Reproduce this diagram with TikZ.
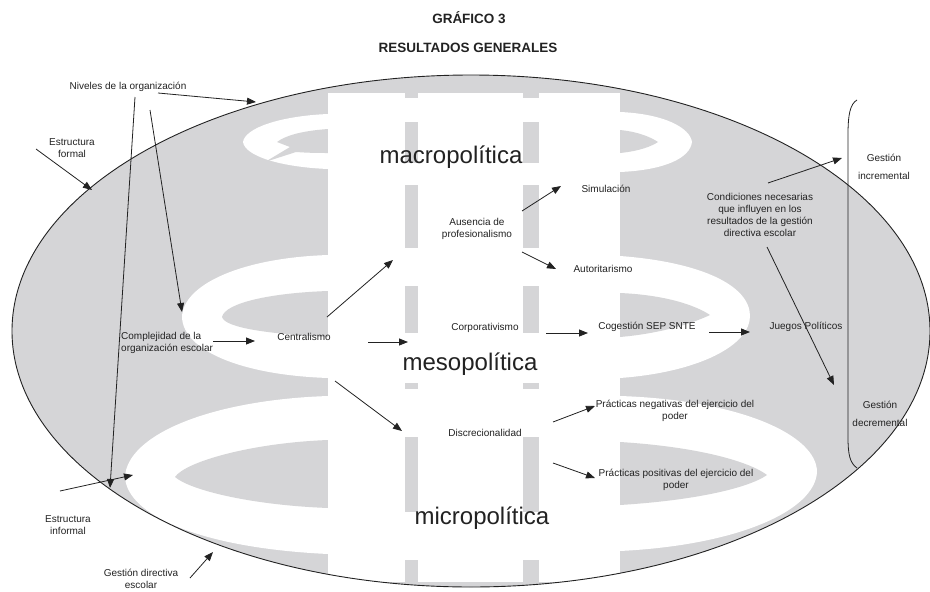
\documentclass[tikz,border=0pt]{standalone}
\usepackage{fontspec}
\setmainfont{Liberation Sans}
\usetikzlibrary{arrows.meta}
\definecolor{bg}{HTML}{D5D5D7}
\definecolor{ink}{HTML}{222222}
\begin{document}
\begin{tikzpicture}[x=1pt,y=-1pt,
  lbl/.style={font=\fontsize{10}{11.8}\selectfont, text=ink, align=center, inner sep=0pt},
  lblwide/.style={font=\fontsize{10}{17.5}\selectfont, text=ink, align=center, inner sep=0pt},
  big/.style={font=\fontsize{24}{28}\selectfont, text=ink, inner sep=0pt, anchor=base},
  ttl/.style={font=\bfseries\fontsize{13.5}{16}\selectfont, text=ink, inner sep=0pt},
  arr/.style={draw=ink, line width=0.8pt, -{Triangle[length=9pt,width=7pt]}},
  outline/.style={draw=ink, line width=0.9pt}]
\useasboundingbox (0,0) rectangle (930,592);
% ---------- background shapes ----------
\begin{scope}
\clip (471,331) ellipse [x radius=459pt, y radius=256pt];
\fill[bg] (0,0) rectangle (930,592);
% macro ring (outer white)
\fill[white] (340,114) -- (328,114) .. controls (280,116) and (245,128) .. (243,142) .. controls (245,156) and (280,167) .. (328,169) -- (340,169) -- cycle;
\fill[white] (608,112) -- (620,112) .. controls (665,114) and (690,128) .. (692,142) .. controls (690,158) and (665,170) .. (620,172) -- (608,172) -- cycle;
% meso ring (outer white)
\fill[white] (340,255) -- (328,255) .. controls (240,258) and (183,285) .. (182,317) .. controls (183,350) and (240,375) .. (328,378) -- (340,378) -- cycle;
\fill[white] (608,256) -- (620,256) .. controls (700,262) and (750,285) .. (750,316) .. controls (750,345) and (700,372) .. (620,378) -- (608,378) -- cycle;
% micro ring (outer white)
\fill[white] (340,396) -- (328,396) .. controls (210,400) and (127,435) .. (125,477) .. controls (127,515) and (200,548) .. (328,554) -- (340,554) -- cycle;
\fill[white] (608,396) -- (620,396) .. controls (740,400) and (817,435) .. (817,472) .. controls (815,510) and (740,545) .. (620,551) -- (608,551) -- cycle;
% inner gray lenses
\fill[bg] (335,129) -- (328,129) .. controls (300,131) and (285,136) .. (277,142) -- (290,147) -- (265,162) -- (296,152) .. controls (310,153) and (320,153) .. (328,153) -- (335,153) -- cycle;
\fill[bg] (613,130) -- (620,130) .. controls (640,132) and (652,138) .. (658,142) .. controls (652,146) and (640,151) .. (620,153) -- (613,153) -- cycle;
\fill[bg] (335,291) -- (328,291) .. controls (270,293) and (225,303) .. (222,317) .. controls (225,328) and (270,334) .. (328,337) -- (335,337) -- cycle;
\fill[bg] (613,293) -- (620,293) .. controls (665,295) and (695,305) .. (710,315) .. controls (695,322) and (665,333) .. (620,337) -- (613,337) -- cycle;
\fill[bg] (335,440) -- (328,440) .. controls (250,443) and (185,462) .. (175,477) .. controls (190,490) and (250,505) .. (328,508) -- (335,508) -- cycle;
\fill[bg] (613,442) -- (620,442) .. controls (700,447) and (750,462) .. (767,475) .. controls (750,487) and (700,500) .. (620,505) -- (613,505) -- cycle;
% central column
\fill[white] (328,93) rectangle (620,582);
% column bars
\foreach \ya/\yb in {93/98,122/163,185/248,286/333,383/389,437/512,560/582}{
  \fill[bg] (405,\ya) rectangle (418,\yb);
  \fill[bg] (523,\ya) rectangle (539,\yb);
}
\end{scope}
\draw[outline] (471,331) ellipse [x radius=459pt, y radius=256pt];
% bracket
\draw[draw=ink, line width=0.8pt] (857,100) .. controls (850,104) and (848,115) .. (848,135) -- (848,437) .. controls (848,455) and (850,463) .. (857,468);
% ---------- texts ----------
\node[ttl] (t1) at (469,18) {GRÁFICO 3};
\node[ttl] (t2) at (468,48) {RESULTADOS GENERALES};
\node[big] (mac) at (451,163) {macropolítica};
\node[big] (mes) at (470,370) {mesopolítica};
\node[big] (mic) at (482,524) {micropolítica};
\node[lbl] (niv) at (128,87) {Niveles de la organización};
\node[lbl] (ef) at (72,148) {Estructura\\formal};
\node[lbl, align=left, anchor=west] (comp) at (121,343) {Complejidad de la\\organización escolar};
\node[lbl] (cen) at (304,337) {Centralismo};
\node[lbl] (aus) at (477,229) {Ausencia de\\profesionalismo};
\node[lbl] (sim) at (606,189) {Simulación};
\node[lbl] (aut) at (603,269) {Autoritarismo};
\node[lbl] (cor) at (485,328) {Corporativismo};
\node[lbl] (cog) at (647,327) {Cogestión SEP SNTE};
\node[lbl] (jue) at (806,327) {Juegos Políticos};
\node[lbl] (cond) at (760,215) {Condiciones necesarias\\que influyen en los\\resultados de la gestión\\directiva escolar};
\node[lblwide] (ginc) at (884,167) {Gestión\\incremental};
\node[lblwide] (gdec) at (880,414) {Gestión\\decremental};
\node[lbl] (dis) at (485,433) {Discrecionalidad};
\node[lbl] (pneg) at (675,411) {Prácticas negativas del ejercicio del\\poder};
\node[lbl] (ppos) at (676,480) {Prácticas positivas del ejercicio del\\poder};
\node[lbl] (ei) at (68,525) {Estructura\\informal};
\node[lbl] (gde) at (141,579) {Gestión directiva\\escolar};
% ---------- connector ends ----------
\coordinate (a1s) at (158,93);  \coordinate (a1e) at (256,102);
\coordinate (a2s) at (135,97);  \coordinate (a2e) at (110,488);
\coordinate (a3s) at (150,110); \coordinate (a3e) at (182,312);
\coordinate (a4s) at (36,149);  \coordinate (a4e) at (92,190);
\coordinate (a5s) at (213,341); \coordinate (a5e) at (255,341);
\coordinate (a6s) at (327,317); \coordinate (a6e) at (393,260);
\coordinate (a7s) at (368,342); \coordinate (a7e) at (408,342);
\coordinate (a8s) at (335,381); \coordinate (a8e) at (402,431);
\coordinate (a9s) at (522,211); \coordinate (a9e) at (561,186);
\coordinate (a10s) at (522,252); \coordinate (a10e) at (556,269);
\coordinate (a11s) at (546,333); \coordinate (a11e) at (588,333);
\coordinate (a12s) at (709,332); \coordinate (a12e) at (750,332);
\coordinate (a13s) at (553,422); \coordinate (a13e) at (595,406);
\coordinate (a14s) at (553,463); \coordinate (a14e) at (595,478);
\coordinate (a15s) at (768,183); \coordinate (a15e) at (842,158);
\coordinate (a16s) at (767,247); \coordinate (a16e) at (834,385);
\coordinate (a17s) at (60,491);  \coordinate (a17e) at (133,475);
\coordinate (a18s) at (190,578); \coordinate (a18e) at (213,552);
\foreach \i in {1,...,18}{ \draw[arr] (a\i s) -- (a\i e); }
\end{tikzpicture}
\end{document}
